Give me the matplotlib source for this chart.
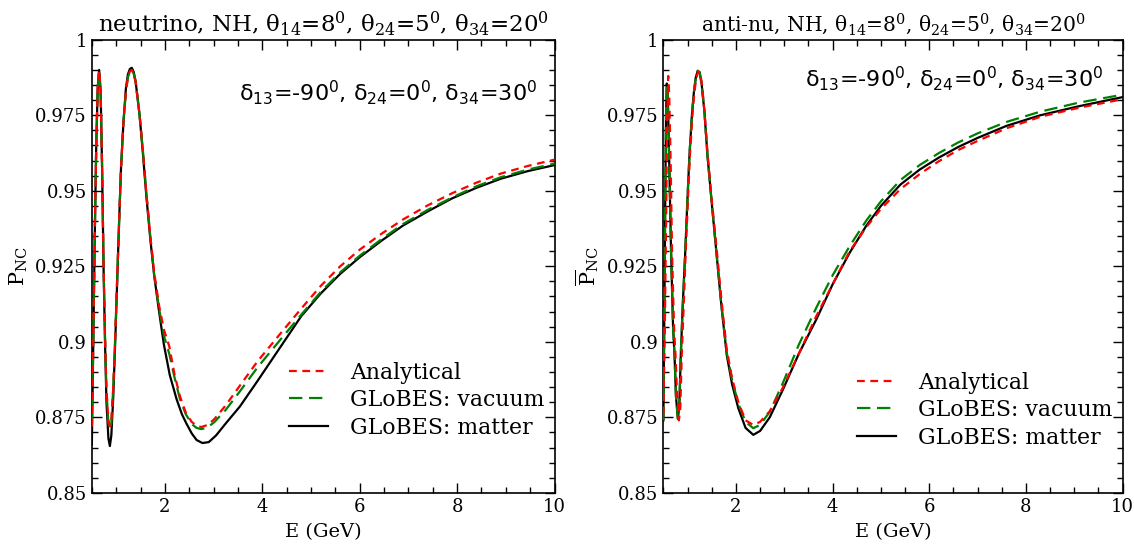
import matplotlib
matplotlib.use("Agg")
import matplotlib.pyplot as plt
from matplotlib.ticker import MultipleLocator

plt.rcParams['font.family'] = 'DejaVu Serif'
plt.rcParams['mathtext.fontset'] = 'custom'
plt.rcParams['mathtext.rm'] = 'DejaVu Serif'
plt.rcParams['mathtext.it'] = 'DejaVu Serif:italic'
plt.rcParams['mathtext.sf'] = 'DejaVu Sans'

# neutrino panel
nu_E_mat = [0.50, 0.53, 0.56, 0.59, 0.62, 0.65, 0.68, 0.71, 0.74, 0.77, 0.80, 0.84, 0.87, 0.90,
            0.94, 0.98, 1.02, 1.06, 1.10, 1.15, 1.20, 1.24, 1.28, 1.32, 1.36, 1.40, 1.48, 1.55,
            1.62, 1.70, 1.78, 1.88, 1.98, 2.10, 2.24, 2.35, 2.44, 2.55, 2.65, 2.77, 2.90, 3.05,
            3.25, 3.54, 3.90, 4.36, 4.80, 5.20, 5.60, 6.00, 6.45, 6.89, 7.40, 7.90, 8.40, 8.90,
            9.45, 10.0]
nu_P_mat = [0.866, 0.900, 0.935, 0.965, 0.984, 0.990, 0.983, 0.958, 0.925, 0.900, 0.880, 0.868,
            0.8655, 0.869, 0.882, 0.900, 0.920, 0.940, 0.958, 0.973, 0.984, 0.9885, 0.9903,
            0.9907, 0.9893, 0.986, 0.975, 0.962, 0.948, 0.934, 0.922, 0.910, 0.899, 0.889,
            0.881, 0.876, 0.873, 0.8697, 0.8675, 0.8665, 0.8668, 0.869, 0.873, 0.8786, 0.887,
            0.898, 0.9085, 0.916, 0.9225, 0.928, 0.9335, 0.9385, 0.9432, 0.9475, 0.951, 0.954,
            0.9565, 0.9585]

nu_E_ana = [0.50, 0.53, 0.56, 0.59, 0.62, 0.65, 0.68, 0.71, 0.74, 0.77, 0.80, 0.84, 0.87, 0.90,
            0.94, 0.98, 1.02, 1.06, 1.10, 1.15, 1.20, 1.24, 1.28, 1.32, 1.36, 1.40, 1.48, 1.55,
            1.62, 1.70, 1.78, 1.88, 1.98, 2.09, 2.20, 2.31, 2.43, 2.55, 2.65, 2.75, 2.88, 3.02,
            3.25, 3.54, 3.90, 4.36, 4.80, 5.20, 5.60, 6.00, 6.45, 6.89, 7.40, 7.90, 8.40, 8.90,
            9.45, 10.0]
nu_P_ana = [0.872, 0.902, 0.936, 0.965, 0.984, 0.990, 0.983, 0.958, 0.926, 0.902, 0.884, 0.874,
            0.872, 0.874, 0.885, 0.902, 0.921, 0.940, 0.958, 0.973, 0.983, 0.9875, 0.9895,
            0.990, 0.9887, 0.986, 0.975, 0.963, 0.949, 0.935, 0.923, 0.912, 0.904, 0.8985,
            0.889, 0.8819, 0.8765, 0.8735, 0.8722, 0.8718, 0.8725, 0.8745, 0.879, 0.8855,
            0.8935, 0.9025, 0.911, 0.9185, 0.925, 0.9305, 0.9358, 0.9405, 0.9452, 0.9492,
            0.9527, 0.9557, 0.9582, 0.9603]

nu_E_vac = nu_E_ana
nu_P_vac = [0.872, 0.902, 0.936, 0.965, 0.984, 0.990, 0.983, 0.958, 0.926, 0.902, 0.884, 0.873,
            0.871, 0.873, 0.885, 0.902, 0.921, 0.940, 0.958, 0.973, 0.983, 0.9875, 0.9895,
            0.990, 0.9887, 0.986, 0.975, 0.963, 0.949, 0.935, 0.922, 0.911, 0.902, 0.896,
            0.888, 0.881, 0.876, 0.8728, 0.8715, 0.8711, 0.8717, 0.8735, 0.8775, 0.8836,
            0.8915, 0.9005, 0.909, 0.9165, 0.923, 0.9285, 0.934, 0.939, 0.9437, 0.9478,
            0.9515, 0.9545, 0.957, 0.959]

# anti-neutrino panel
an_E_mat = [0.50, 0.52, 0.54, 0.555, 0.57, 0.59, 0.62, 0.66, 0.70, 0.73, 0.76, 0.80, 0.83, 0.86,
            0.90, 0.95, 1.00, 1.04, 1.09, 1.13, 1.17, 1.21, 1.25, 1.29, 1.35, 1.41, 1.50, 1.60,
            1.70, 1.81, 1.92, 2.05, 2.20, 2.36, 2.50, 2.70, 2.97, 3.30, 3.66, 4.00, 4.35, 4.70,
            5.00, 5.40, 5.80, 6.20, 6.60, 7.00, 7.60, 8.30, 9.10, 10.0]
an_P_mat = [0.874, 0.910, 0.950, 0.975, 0.9855, 0.982, 0.960, 0.929, 0.905, 0.8957, 0.882,
            0.8745, 0.879, 0.8957, 0.912, 0.929, 0.948, 0.962, 0.975, 0.9825, 0.9875, 0.9897,
            0.9892, 0.9855, 0.976, 0.962, 0.946, 0.929, 0.912, 0.8957, 0.886, 0.878, 0.8715,
            0.8692, 0.8705, 0.875, 0.8841, 0.896, 0.9073, 0.919, 0.9294, 0.9385, 0.945, 0.952,
            0.957, 0.961, 0.9645, 0.9675, 0.9715, 0.975, 0.978, 0.981]

an_E_ana = [0.50, 0.53, 0.56, 0.58, 0.60, 0.62, 0.65, 0.68, 0.72, 0.75, 0.78, 0.82, 0.85, 0.88,
            0.92, 0.96, 1.01, 1.05, 1.10, 1.14, 1.18, 1.22, 1.26, 1.30, 1.35, 1.41, 1.50, 1.60,
            1.70, 1.81, 1.92, 2.05, 2.20, 2.36, 2.50, 2.70, 2.97, 3.30, 3.66, 4.00, 4.35, 4.70,
            5.00, 5.40, 5.80, 6.20, 6.60, 7.00, 7.60, 8.30, 9.10, 10.0]
an_P_ana = [0.876, 0.905, 0.945, 0.975, 0.988, 0.982, 0.960, 0.929, 0.905, 0.8957, 0.884,
            0.874, 0.878, 0.8957, 0.912, 0.929, 0.948, 0.962, 0.975, 0.9825, 0.9873, 0.9895,
            0.989, 0.985, 0.976, 0.963, 0.947, 0.931, 0.914, 0.8975, 0.888, 0.880, 0.874,
            0.8725, 0.8735, 0.877, 0.8848, 0.896, 0.9084, 0.919, 0.9299, 0.938, 0.944, 0.9505,
            0.9555, 0.9598, 0.9635, 0.9665, 0.9707, 0.9745, 0.9775, 0.9803]

an_E_vac = an_E_mat
an_P_vac = [0.874, 0.910, 0.950, 0.975, 0.9855, 0.982, 0.960, 0.929, 0.905, 0.8957, 0.882,
            0.8745, 0.879, 0.8957, 0.912, 0.929, 0.948, 0.962, 0.975, 0.9825, 0.9875, 0.9897,
            0.9892, 0.9855, 0.976, 0.962, 0.946, 0.929, 0.912, 0.8965, 0.8875, 0.8795, 0.8735,
            0.8714, 0.8725, 0.8768, 0.8863, 0.899, 0.9112, 0.922, 0.9316, 0.9402, 0.9465,
            0.9535, 0.9585, 0.9625, 0.966, 0.969, 0.9728, 0.9762, 0.9792, 0.9818]

titles = [r'neutrino, NH, θ$_{\mathrm{14}}$=8$^{\mathrm{0}}$, θ$_{\mathrm{24}}$=5$^{\mathrm{0}}$, θ$_{\mathrm{34}}$=20$^{\mathrm{0}}$',
          r'anti-nu, NH, θ$_{\mathrm{14}}$=8$^{\mathrm{0}}$, θ$_{\mathrm{24}}$=5$^{\mathrm{0}}$, θ$_{\mathrm{34}}$=20$^{\mathrm{0}}$']
ylabels = [r'P$_{\mathrm{NC}}$', r'$\overline{\mathrm{P}}_{\mathrm{NC}}$']
deltas = r'δ$_{\mathsf{13}}$=-90$^{\mathsf{0}}$, δ$_{\mathsf{24}}$=0$^{\mathsf{0}}$, δ$_{\mathsf{34}}$=30$^{\mathsf{0}}$'
labels = ['Analytical', 'GLoBES: vacuum', 'GLoBES: matter']

panels = [
    (nu_E_ana, nu_P_ana, nu_E_vac, nu_P_vac, nu_E_mat, nu_P_mat),
    (an_E_ana, an_P_ana, an_E_vac, an_P_vac, an_E_mat, an_P_mat),
]

fig = plt.figure(figsize=(11.34, 5.44), dpi=100)
axpos = [[0.081, 0.094, 0.408, 0.833], [0.585, 0.094, 0.405, 0.833]]
legpos = [(1.012, 0.086), (1.012, 0.064)]
titlesize = [16.5, 14.6]
deltay = [0.883, 0.914]
deltax = [0.962, 0.958]

for i in range(2):
    ax = fig.add_axes(axpos[i])
    Ea, Pa, Ev, Pv, Em, Pm = panels[i]
    ax.plot(Ea, Pa, color='red', ls=(0, (3.5, 2.5)), lw=1.6, label=labels[0], zorder=4)
    ax.plot(Ev, Pv, color='green', ls=(0, (6, 3)), lw=1.6, label=labels[1], zorder=3)
    ax.plot(Em, Pm, color='black', ls='-', lw=1.6, label=labels[2], zorder=2)
    ax.set_xlim(0.5, 10)
    ax.set_ylim(0.85, 1.0)
    ax.xaxis.set_major_locator(MultipleLocator(2))
    ax.xaxis.set_minor_locator(MultipleLocator(0.5))
    ax.yaxis.set_minor_locator(MultipleLocator(0.005))
    ax.set_yticks([0.85, 0.875, 0.9, 0.925, 0.95, 0.975, 1.0])
    ax.set_yticklabels(['0.85', '0.875', '0.9', '0.925', '0.95', '0.975', '1'])
    ax.tick_params(which='both', direction='in', top=True, right=True, labelsize=13)
    ax.tick_params(which='major', length=7, width=1)
    ax.tick_params(which='minor', length=4, width=1)
    for s in ax.spines.values():
        s.set_linewidth(1.2)
    ax.set_xlabel('E (GeV)', fontsize=14, labelpad=5)
    ax.set_ylabel(ylabels[i], fontsize=15, labelpad=4)
    ax.set_title(titles[i], fontsize=titlesize[i], pad=6)
    ax.text(deltax[i], deltay[i], deltas, transform=ax.transAxes, ha='right', va='center',
            fontsize=16, family='DejaVu Sans')
    ax.legend(loc='lower right', bbox_to_anchor=legpos[i], frameon=False, fontsize=15.8,
              handlelength=1.8, labelspacing=0.25, handletextpad=1.0, borderaxespad=0.3)

fig.savefig('out.png', dpi=100)
